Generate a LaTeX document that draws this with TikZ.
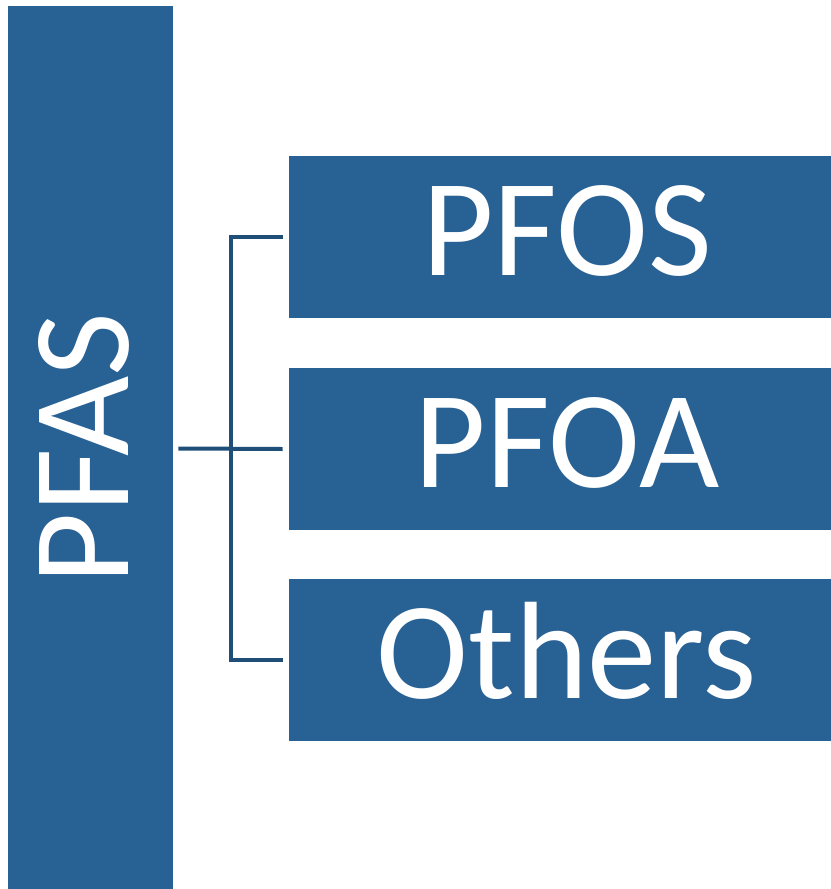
\documentclass[tikz,border=0pt]{standalone}
\usepackage{fontspec}
\setmainfont{Carlito}
\usetikzlibrary{calc}
\definecolor{pfblue}{HTML}{286194}
\definecolor{pfline}{HTML}{1F4E79}

\begin{document}
\begin{tikzpicture}[x=0.75pt, y=-0.75pt,
    bar/.style={fill=pfblue, text=white, inner sep=0pt,
      font=\fontsize{104}{124}\selectfont, text height=67pt, text depth=10pt},
    box/.style={bar, minimum width=417pt, minimum height=121.5pt},
    link/.style={draw=pfline, line width=3pt}]
  \useasboundingbox (0,0) rectangle (831,889);
  % Parent bar, text reads bottom to top
  \node[bar, minimum width=664pt, minimum height=123.75pt, rotate=90]
    (pfas) at (90.5,448.5) {PFAS};
  % Child boxes, running past the right edge
  \node[box] (pfos) at (567,237.25) {PFOS};
  \node[box] (pfoa) at (567,449) {PFOA};
  \node[box] (others) at (567,660) {Others};
  % Bracket
  \draw[link] ($(pfas.south)+(5,0)$) -- ($(pfoa.west)+(-6,0)$);
  \draw[link] ($(pfos.west)+(-6,0)$) -- ++(-52,0) |- ($(others.west)+(-6,0)$);
\end{tikzpicture}
\end{document}
